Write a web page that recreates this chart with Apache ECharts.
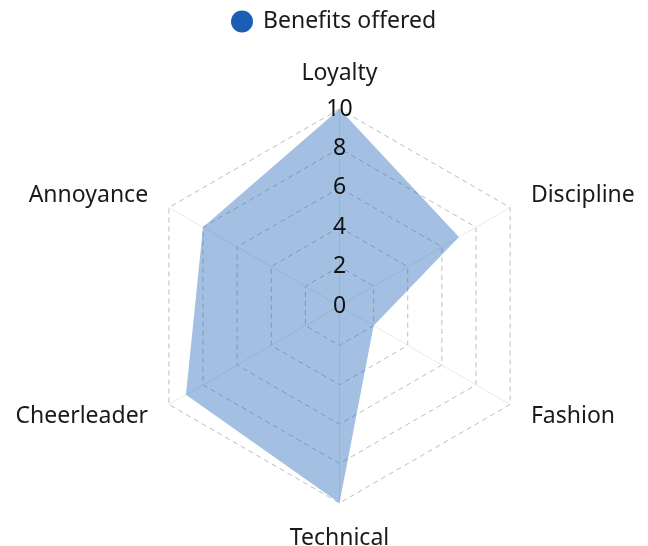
<!DOCTYPE html>
<html>
<head>
<meta charset="utf-8">
<script src="https://cdn.jsdelivr.net/npm/echarts@6/dist/echarts.min.js"></script>
<style>
  html, body { margin: 0; padding: 0; background: #fff; }
  #chart { width: 648px; height: 546px; }
</style>
</head>
<body>
<div id="chart"></div>
<script>
// data, listed counter-clockwise from the top so the radar reads clockwise
var indicators = ['Loyalty', 'Annoyance', 'Cheerleader', 'Technical', 'Fashion', 'Discipline'];
var benefits = [10, 8, 9, 10, 2, 7];
var seriesName = 'Benefits offered';
var maxValue = 10;

var myChart = echarts.init(document.getElementById('chart'));
var fontFamily = '"Noto Sans", "Open Sans", sans-serif';

var center = [339.5, 306];
var radius = 197;

myChart.setOption({
    animation: false,
    textStyle: { fontFamily: fontFamily },
    legend: {
        data: [seriesName],
        left: 226,
        top: 5,
        icon: 'circle',
        itemWidth: 22,
        itemHeight: 22,
        textStyle: { fontSize: 23, color: '#1a1a1a', fontFamily: fontFamily, padding: [0, 0, 0, 5] }
    },
    radar: [{
        center: center,
        radius: radius,
        startAngle: 90,
        splitNumber: 5,
        shape: 'polygon',
        nameGap: 24,
        axisName: { color: '#1a1a1a', fontSize: 23, fontFamily: fontFamily },
        indicator: indicators.map(function (name) {
            return { name: name, min: 0, max: maxValue };
        }),
        axisLine: { lineStyle: { color: 'rgba(225,225,225,0.7)', width: 1 } },
        splitLine: { lineStyle: { color: '#bdbdbd', type: [5, 4], width: 1 } },
        splitArea: { show: false },
        axisTick: { show: false },
        axisLabel: { show: false }
    }, {
        // overlay that only carries the tick labels, drawn above the fill
        z: 5,
        center: center,
        radius: radius,
        startAngle: 90,
        splitNumber: 5,
        shape: 'polygon',
        axisName: { show: false },
        indicator: indicators.map(function (name, i) {
            var ind = { name: name, min: 0, max: maxValue };
            if (i === 0) {
                ind.axisLabel = {
                    show: true,
                    margin: 0,
                    align: 'center',
                    verticalAlign: 'middle',
                    fontSize: 23,
                    color: '#111',
                    fontFamily: fontFamily
                };
            }
            return ind;
        }),
        axisLine: { show: false },
        splitLine: { show: false },
        splitArea: { show: false },
        axisTick: { show: false },
        axisLabel: { show: false }
    }],
    series: [{
        name: seriesName,
        type: 'radar',
        radarIndex: 0,
        symbol: 'none',
        itemStyle: { color: '#1a5fb4' },
        lineStyle: { width: 0, opacity: 0 },
        areaStyle: { color: '#1a5fb4', opacity: 0.4 },
        data: [{ value: benefits, name: seriesName }]
    }]
});
</script>
</body>
</html>
